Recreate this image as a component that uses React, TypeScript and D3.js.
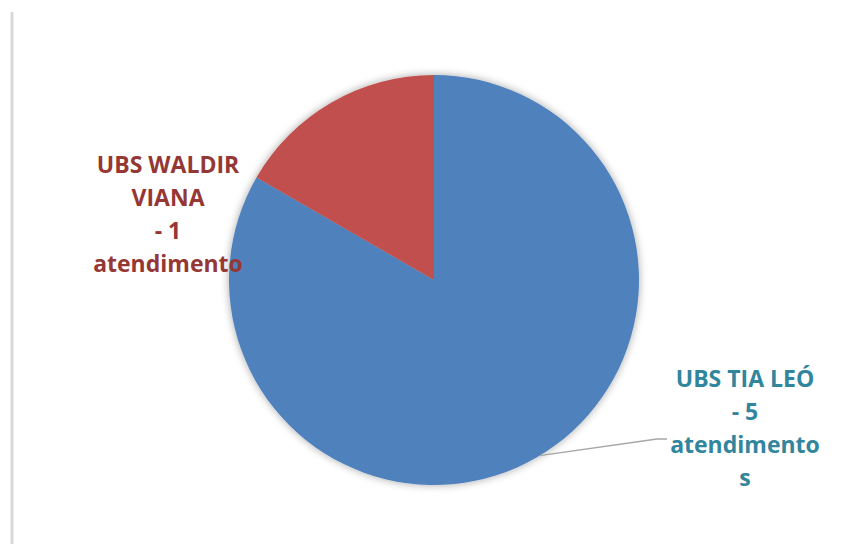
import React from "react";
import * as d3 from "d3";

const categories = ["UBS TIA LEÓ", "UBS WALDIR VIANA"];
const values = [5, 1];
const sliceColors = ["#4F81BD", "#C0504D"];
const labelColors = ["#31859C", "#953735"];
const labelLines = [
  ["UBS TIA LEÓ", "- 5", "atendimento", "s"],
  ["UBS WALDIR", "VIANA", "- 1", "atendimento"],
];

const W = 845;
const H = 544;
const cx = 434;
const cy = 280;
const R = 205;

export default function App() {
  const data = categories.map((c, i) => ({ name: c, value: values[i], i }));
  const pie = d3.pie<any>().sort(null).value((d) => d.value).startAngle(0).endAngle(2 * Math.PI);
  const arcs = pie(data);
  const arc = d3.arc<any>().innerRadius(0).outerRadius(R);

  const labelPos = [
    { x: 745, y: 379 },
    { x: 168, y: 165 },
  ];
  const lineH = 33;

  const leaderAngle = 2.6;
  const edge = [cx + R * Math.sin(leaderAngle), cy - R * Math.cos(leaderAngle)];

  return (
    <svg width={W} height={H} style={{ position: "absolute", left: 0, top: 0, background: "#fff" }}>
      <defs>
        <filter id="sh" x="-20%" y="-20%" width="140%" height="140%">
          <feGaussianBlur in="SourceAlpha" stdDeviation="4" />
          <feOffset dx="0" dy="0" result="b" />
          <feComponentTransfer>
            <feFuncA type="linear" slope="0.35" />
          </feComponentTransfer>
          <feMerge>
            <feMergeNode />
            <feMergeNode in="SourceGraphic" />
          </feMerge>
        </filter>
      </defs>
      <rect x={0} y={0} width={W} height={H} fill="#fff" />
      <line x1={12} y1={12} x2={12} y2={H} stroke="#d9d9d9" strokeWidth={3} />
      <g transform={`translate(${cx},${cy})`} filter="url(#sh)">
        {arcs.map((a, i) => (
          <path key={i} d={arc(a) || ""} fill={sliceColors[i]} />
        ))}
      </g>
      <polyline
        points={`${edge[0]},${edge[1]} 657,439 667,439`}
        fill="none"
        stroke="#a6a6a6"
        strokeWidth={1.3}
      />
      {labelLines.map((lines, i) => (
        <text
          key={i}
          textAnchor="middle"
          fill={labelColors[i]}
          fontFamily="'Open Sans', sans-serif"
          fontWeight="bold"
          fontSize={23}
        >
          {lines.map((l, j) => (
            <tspan key={j} x={labelPos[i].x} y={labelPos[i].y + j * lineH} dy="0.35em">
              {l}
            </tspan>
          ))}
        </text>
      ))}
    </svg>
  );
}
